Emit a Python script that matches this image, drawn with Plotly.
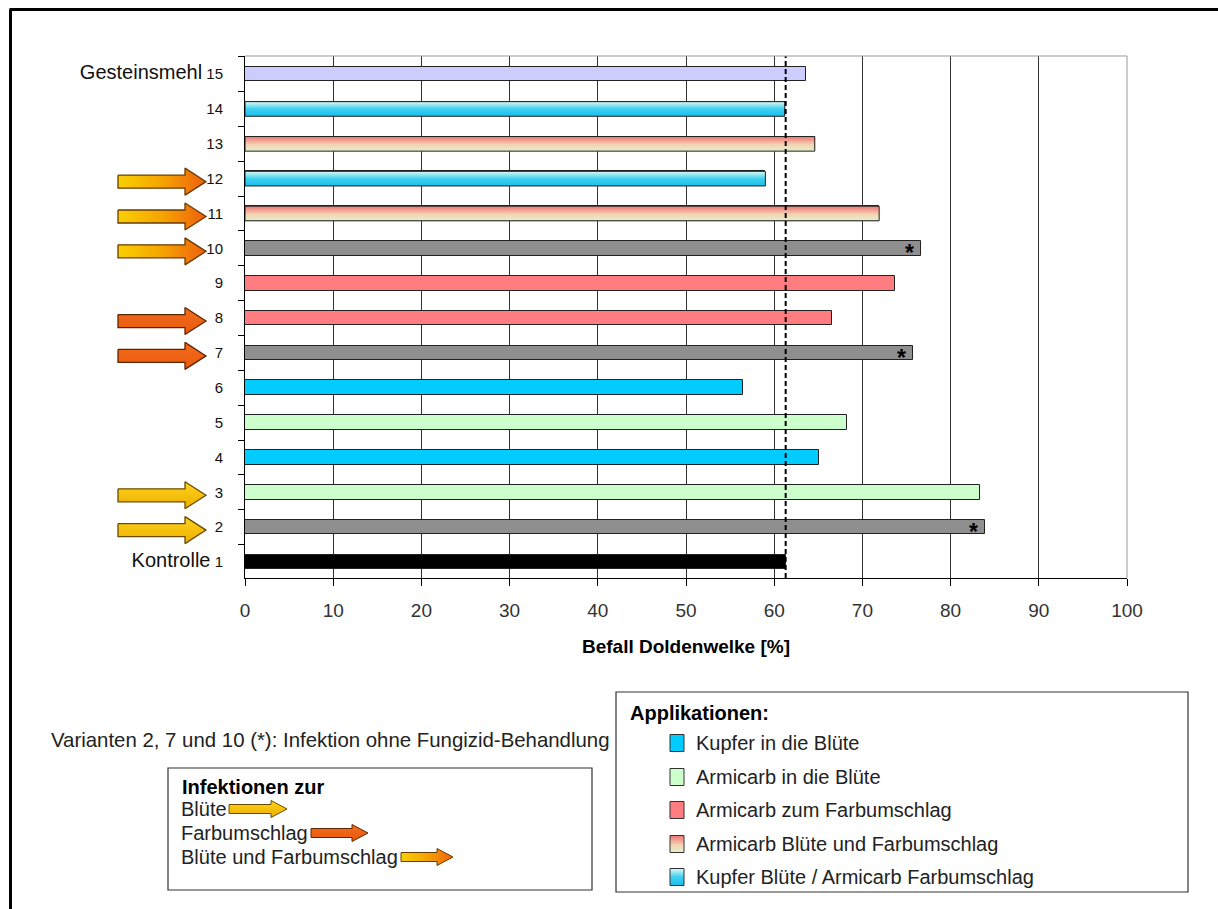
import plotly.graph_objects as go

W, H = 1218, 909
FONT = "Liberation Sans, Arial, sans-serif"

# ---- data -------------------------------------------------------------
variants = list(range(1, 16))
befall = [61.3, 83.9, 83.3, 65.1, 68.2, 56.5, 75.7, 66.6, 73.7, 76.6,
          71.9, 59.0, 64.6, 61.2, 63.6]
treatment = ["kontrolle", "ohne", "armi_bl", "kupfer_bl", "armi_bl",
             "kupfer_bl", "ohne", "armi_fu", "armi_fu", "ohne",
             "armi_bl_fu", "kupfer_armi", "armi_bl_fu", "kupfer_armi",
             "gestein"]
infection = {2: "bluete", 3: "bluete", 7: "farb", 8: "farb",
             10: "beide", 11: "beide", 12: "beide"}
no_fungicide = [2, 7, 10]
category_names = {1: "Kontrolle", 15: "Gesteinsmehl"}
x_ticks = list(range(0, 101, 10))

appl_legend = [("Kupfer in die Blüte", "kupfer_bl"),
               ("Armicarb in die Blüte", "armi_bl"),
               ("Armicarb zum Farbumschlag", "armi_fu"),
               ("Armicarb Blüte und Farbumschlag", "armi_bl_fu"),
               ("Kupfer Blüte / Armicarb Farbumschlag", "kupfer_armi")]
inf_legend = [("Blüte", "bluete"), ("Farbumschlag", "farb"),
              ("Blüte und Farbumschlag", "beide")]

# ---- styles -----------------------------------------------------------
solid = {"kontrolle": "#000000", "ohne": "#8F8F8F", "armi_bl": "#CCFFCC",
         "kupfer_bl": "#00CCFF", "armi_fu": "#FF7C80",
         "armi_bl_fu": "#F2C4A8", "kupfer_armi": "#5AD8F0",
         "gestein": "#CCCCFF"}
gradient = {"armi_bl_fu": [[0, "#E2F2C8"], [0.45, "#F4D2B4"], [1, "#EE7472"]],
            "kupfer_armi": [[0, "#18BEEC"], [0.5, "#40D0F0"], [1, "#DCFCF4"]]}
arrow_style = {
    "bluete": dict(type="vertical", colorscale=[[0, "#ECAE00"], [1, "#FFD41C"]]),
    "farb": dict(type="vertical", colorscale=[[0, "#E85A0C"], [1, "#F36C1E"]]),
    "beide": dict(type="horizontal",
                  colorscale=[[0, "#F8D000"], [0.5, "#F5A400"], [1, "#EE6010"]]),
}
arrow_line = {"bluete": "#6A4C00", "farb": "#5E2600", "beide": "#6A3A00"}

BAR_W = 0.42
Y_RANGE = [0.54, 15.52]
PX_PER_CAT = 522 / (Y_RANGE[1] - Y_RANGE[0])

fig = go.Figure()

# bars
fig.add_trace(go.Bar(
    y=variants, x=befall, orientation="h", width=BAR_W,
    marker=dict(color=[solid[t] for t in treatment],
                line=dict(color="#222222", width=1)),
    showlegend=False, hoverinfo="x+y"))

# gradient-filled bars drawn on top of their solid base
for v, val, t in zip(variants, befall, treatment):
    if t in gradient:
        h = BAR_W / 2
        fig.add_trace(go.Scatter(
            x=[0, val, val, 0, 0], y=[v - h, v - h, v + h, v + h, v - h],
            mode="lines", fill="toself",
            fillgradient=dict(type="vertical", colorscale=gradient[t]),
            line=dict(color="#222222", width=1),
            showlegend=False, hoverinfo="skip"))


def arrow_poly(x0, length, neck, yc, body, head):
    xn = x0 + length - neck
    xt = x0 + length
    xs = [x0, xn, xn, xt, xn, xn, x0, x0]
    ys = [yc + body, yc + body, yc + head, yc, yc - head, yc - body,
          yc - body, yc + body]
    return xs, ys


# infection arrows beside the categories (x in pixels on a helper axis)
for v, kind in infection.items():
    xs, ys = arrow_poly(118, 88, 21, v - 3 / PX_PER_CAT,
                        6.5 / PX_PER_CAT, 13.5 / PX_PER_CAT)
    fig.add_trace(go.Scatter(
        x=xs, y=ys, xaxis="x2", yaxis="y", mode="lines", fill="toself",
        fillgradient=arrow_style[kind],
        line=dict(color=arrow_line[kind], width=1.3),
        showlegend=False, hoverinfo="skip"))

# ---- legend graphics on a pixel canvas (y measured from page bottom) -----
def cy(y):
    return H - y


appl_rows = [743, 777, 810, 844, 877]
for (label, t), yr in zip(appl_legend, appl_rows):
    xs = [670, 684, 684, 670, 670]
    ys = [cy(yr + 8.5), cy(yr + 8.5), cy(yr - 8.5), cy(yr - 8.5), cy(yr + 8.5)]
    if t in gradient:
        fill = dict(fillgradient=dict(type="vertical", colorscale=gradient[t]))
    else:
        fill = dict(fillcolor=solid[t])
    fig.add_trace(go.Scatter(
        x=xs, y=ys, xaxis="x3", yaxis="y3", mode="lines", fill="toself",
        line=dict(color="#333333", width=1), showlegend=False,
        hoverinfo="skip", **fill))

inf_rows = [809, 833, 857]
inf_arrows = [(229, 58), (311, 57), (401, 52)]
for (label, kind), yr, (xa, ln) in zip(inf_legend, inf_rows, inf_arrows):
    xs, ys = arrow_poly(xa, ln, 16, cy(yr), 4.5, 8.5)
    fig.add_trace(go.Scatter(
        x=xs, y=ys, xaxis="x3", yaxis="y3", mode="lines", fill="toself",
        fillgradient=arrow_style[kind],
        line=dict(color=arrow_line[kind], width=1),
        showlegend=False, hoverinfo="skip"))


def px(x):
    return x / W


def py(y):
    return 1 - y / H


annotations = []
# asterisks for variants without fungicide treatment
for v in no_fungicide:
    annotations.append(dict(
        x=befall[v - 1], y=v, xref="x", yref="y", text="<b>*</b>",
        showarrow=False, xanchor="right", yanchor="middle", xshift=-5,
        yshift=-5, font=dict(size=23, color="#000000", family=FONT)))

annotations += [
    dict(x=px(10), y=py(7.5), xref="paper", yref="paper", text="<b>2008</b>",
         showarrow=False, xanchor="left", yanchor="bottom",
         font=dict(size=28, color="#000000", family=FONT)),
    dict(x=px(686), y=py(646), xref="paper", yref="paper",
         text="<b>Befall Doldenwelke [%]</b>", showarrow=False,
         xanchor="center", yanchor="middle",
         font=dict(size=19, color="#000000", family=FONT)),
    dict(x=px(49), y=py(740), xref="paper", yref="paper",
         text="Varianten 2, 7 und 10 (*): Infektion ohne Fungizid-Behandlung",
         showarrow=False, xanchor="left", yanchor="middle",
         font=dict(size=20.4, color="#222222", family=FONT)),
    dict(x=px(180), y=py(787), xref="paper", yref="paper",
         text="<b>Infektionen zur</b>", showarrow=False, xanchor="left",
         yanchor="middle", font=dict(size=20, color="#000000", family=FONT)),
    dict(x=px(628), y=py(713), xref="paper", yref="paper",
         text="<b>Applikationen:</b>", showarrow=False, xanchor="left",
         yanchor="middle", font=dict(size=20, color="#000000", family=FONT)),
]
for (label, _), yr in zip(inf_legend, inf_rows):
    annotations.append(dict(
        x=px(179), y=py(yr), xref="paper", yref="paper", text=label,
        showarrow=False, xanchor="left", yanchor="middle",
        font=dict(size=20, color="#222222", family=FONT)))
for (label, _), yr in zip(appl_legend, appl_rows):
    annotations.append(dict(
        x=px(694), y=py(yr), xref="paper", yref="paper", text=label,
        showarrow=False, xanchor="left", yanchor="middle",
        font=dict(size=20, color="#222222", family=FONT)))

shapes = [
    # control reference line
    dict(type="line", xref="x", yref="y domain", x0=befall[0], x1=befall[0],
         y0=0, y1=1, line=dict(color="#000000", width=2, dash="5px,3px")),
    # plot area top and right edges
    dict(type="line", xref="x domain", yref="y domain", x0=0, x1=1, y0=1,
         y1=1, line=dict(color="#999999", width=1)),
    dict(type="line", xref="x domain", yref="y domain", x0=1, x1=1, y0=0,
         y1=1, line=dict(color="#999999", width=1)),
    # outer frame
    dict(type="line", xref="paper", yref="paper", x0=px(9.5), x1=1.01,
         y0=py(9.5), y1=py(9.5), line=dict(color="#000000", width=3)),
    dict(type="line", xref="paper", yref="paper", x0=px(10.5), x1=px(10.5),
         y0=py(9.5), y1=-0.01, line=dict(color="#000000", width=3)),
    # legend boxes
    dict(type="rect", xref="paper", yref="paper", x0=px(168), x1=px(592),
         y0=py(768), y1=py(890), line=dict(color="#333333", width=1.2)),
    dict(type="rect", xref="paper", yref="paper", x0=px(616), x1=px(1188),
         y0=py(692), y1=py(892), line=dict(color="#333333", width=1.2)),
]

ytext = []
for v in variants:
    if v in category_names:
        ytext.append(f'<span style="font-size:20px">{category_names[v]}</span> {v}')
    else:
        ytext.append(str(v))

fig.update_layout(
    width=W, height=H, margin=dict(l=0, r=0, t=0, b=0),
    paper_bgcolor="white", plot_bgcolor="white", showlegend=False,
    bargap=0,
    font=dict(family=FONT, color="#222222"),
    xaxis=dict(domain=[245 / W, 1127 / W], range=[0, 100], tickvals=x_ticks,
               showgrid=True, gridcolor="#333333", gridwidth=1,
               zeroline=False, showline=True, linecolor="#000000",
               linewidth=1, ticks="outside", ticklen=7, tickcolor="#000000",
               ticklabelstandoff=8, tickfont=dict(size=19, color="#333333"),
               automargin=False, anchor="y"),
    yaxis=dict(domain=[py(578), py(56)], range=Y_RANGE, tickvals=variants,
               ticktext=ytext, showgrid=False, zeroline=False,
               showline=True, linecolor="#000000", linewidth=1,
               ticks="outside", ticklen=18, tickcolor="rgba(0,0,0,0)",
               minor=dict(tick0=0.5, dtick=1, ticks="outside", ticklen=6,
                          tickcolor="#000000"),
               tickfont=dict(size=15, color="#111111"),
               automargin=False, anchor="x"),
    xaxis2=dict(domain=[100 / W, 215 / W], range=[100, 215], visible=False,
                anchor="y", fixedrange=True),
    xaxis3=dict(domain=[0, 1], range=[0, W], visible=False, anchor="y3",
                fixedrange=True),
    yaxis3=dict(domain=[0, 240 / H], range=[0, 240], visible=False,
                anchor="x3", fixedrange=True),
    annotations=annotations, shapes=shapes,
)

fig.write_html("out.html")
